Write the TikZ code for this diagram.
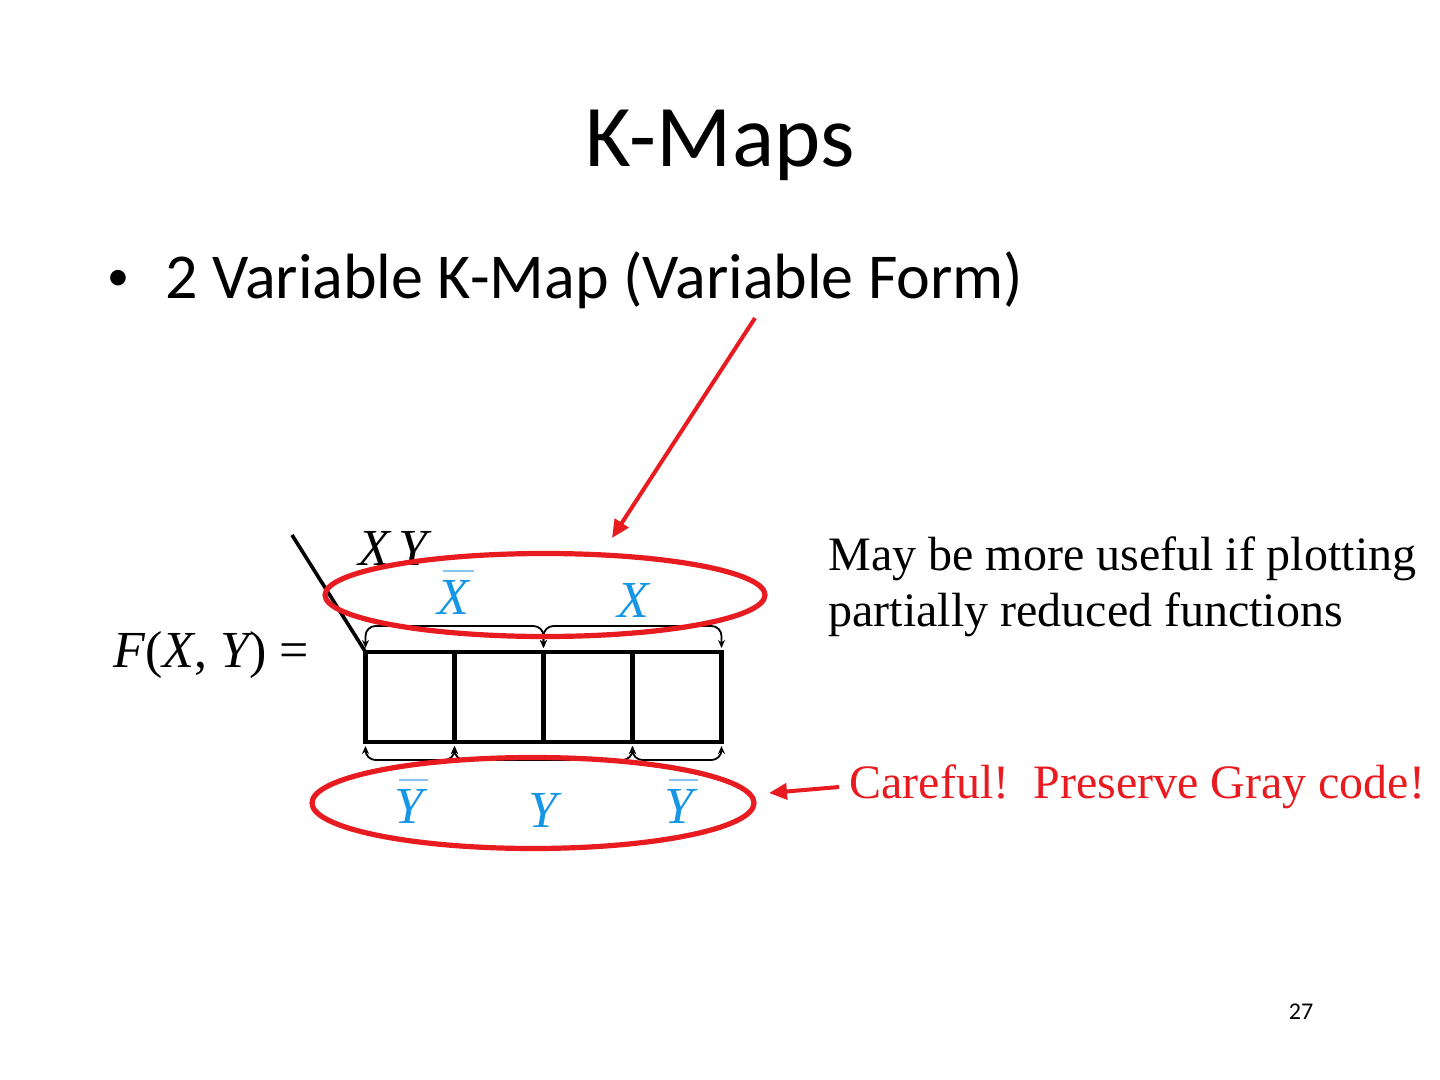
\documentclass[tikz,border=0pt]{standalone}
\usepackage{fontspec}
\setmainfont{Carlito}
\newfontfamily\timesfont{Liberation Serif}
\usetikzlibrary{arrows.meta,shapes.geometric,positioning}
\definecolor{RingRed}{RGB}{232,28,32}
\definecolor{VarBlue}{RGB}{22,150,230}
\definecolor{BarBlue}{RGB}{135,195,240}
\newcommand{\kvar}[1]{{\timesfont\itshape #1}}
\newcommand{\kbar}[1]{\setbox0\hbox{\kvar{#1}}%
  \vbox{\offinterlineskip\hbox{\kern2.5pt{\color{BarBlue}\rule{\wd0}{1.4pt}}}\kern4pt\box0}}
\tikzset{
  cell/.style={draw,line width=2.2pt,minimum width=44.5pt,minimum height=45pt,inner sep=0pt,outer sep=0pt},
  brk/.style={line width=0.9pt,rounded corners=5pt,{Stealth[length=4pt,width=3.5pt]}-{Stealth[length=4pt,width=3.5pt]}},
  ring/.style={ellipse,draw=RingRed,line width=2.6pt,inner sep=0pt},
  redarrow/.style={draw=RingRed,line width=2pt,-{Triangle[length=9pt,width=8pt]},fill=RingRed},
  maptext/.style={font=\timesfont\fontsize{26}{30}\selectfont,inner sep=0pt},
  mapvar/.style={maptext,text=VarBlue}
}
\begin{document}
\begin{tikzpicture}[x=0.5pt,y=-0.5pt]
\useasboundingbox[fill=white] (0,0) rectangle (1440,1080);
% slide text
\node (title) at (720,145) {\fontsize{44}{53}\selectfont K-Maps};
\node (bullet) at (118,280) {\fontsize{22}{26}\selectfont •};
\node[anchor=west,inner sep=0pt] (point) at (165,280) {\fontsize{32}{38}\selectfont 2 Variable K-Map (Variable Form)};
\node[anchor=north west,align=left,inner sep=0pt,font=\timesfont\fontsize{24}{28}\selectfont] (note) at (828,536)
  {May be more useful if plotting\\partially reduced functions};
\node[anchor=west,inner sep=0pt,text=RingRed,font=\timesfont\fontsize{24}{28}\selectfont] (careful) at (849,787)
  {Careful!\ \ Preserve Gray code!};
\node (pagenum) at (1301,1012) {\fontsize{12}{14}\selectfont 27};
% the map
\node[cell] (c1) at (410,697) {};
\node[cell,right=0pt of c1] (c2) {};
\node[cell,right=0pt of c2] (c3) {};
\node[cell,right=0pt of c3] (c4) {};
\coordinate (slash) at (292,535);
\draw[line width=1.8pt] (slash) -- (c1.north west);
\node[maptext] (xy) at (393,548) {\itshape X\,Y};
\node[maptext] (fxy) at (211,655) {\kvar{F}(\kvar{X}, \kvar{Y}) =};
\draw[brk] ([yshift=2pt]c1.north west) -- ++(0,-22) -| ([yshift=2pt]c2.north east);
\draw[brk] ([yshift=2pt]c3.north west) -- ++(0,-22) -| ([yshift=2pt]c4.north east);
\draw[brk] ([yshift=-2pt]c1.south west) -- ++(0,14) -| ([yshift=-2pt]c1.south east);
\draw[brk] ([yshift=-2pt]c2.south west) -- ++(0,14) -| ([yshift=-2pt]c3.south east);
\draw[brk] ([yshift=-2pt]c4.south west) -- ++(0,14) -| ([yshift=-2pt]c4.south east);
\node[mapvar] (xnot) at (456,592) {\kbar{X}};
\node[mapvar] (xis) at (633,600) {\kvar{X}};
\node[mapvar] (ynot1) at (411,801) {\kbar{Y}};
\node[mapvar] (yis) at (543,810) {\kvar{Y}};
\node[mapvar] (ynot2) at (681,801) {\kbar{Y}};
% red marks
\node[ring,minimum width=220pt,minimum height=41.5pt] (topring) at (545,595) {};
\node[ring,minimum width=221pt,minimum height=45.5pt] (botring) at (533,803) {};
\coordinate (fromtitle) at (755,318);
\coordinate (abovering) at (612,538);
\coordinate (besidering) at (769,793);
\draw[redarrow] (fromtitle) -- (abovering);
\draw[redarrow] ([xshift=-5pt]careful.west) -- (besidering);
\end{tikzpicture}
\end{document}
